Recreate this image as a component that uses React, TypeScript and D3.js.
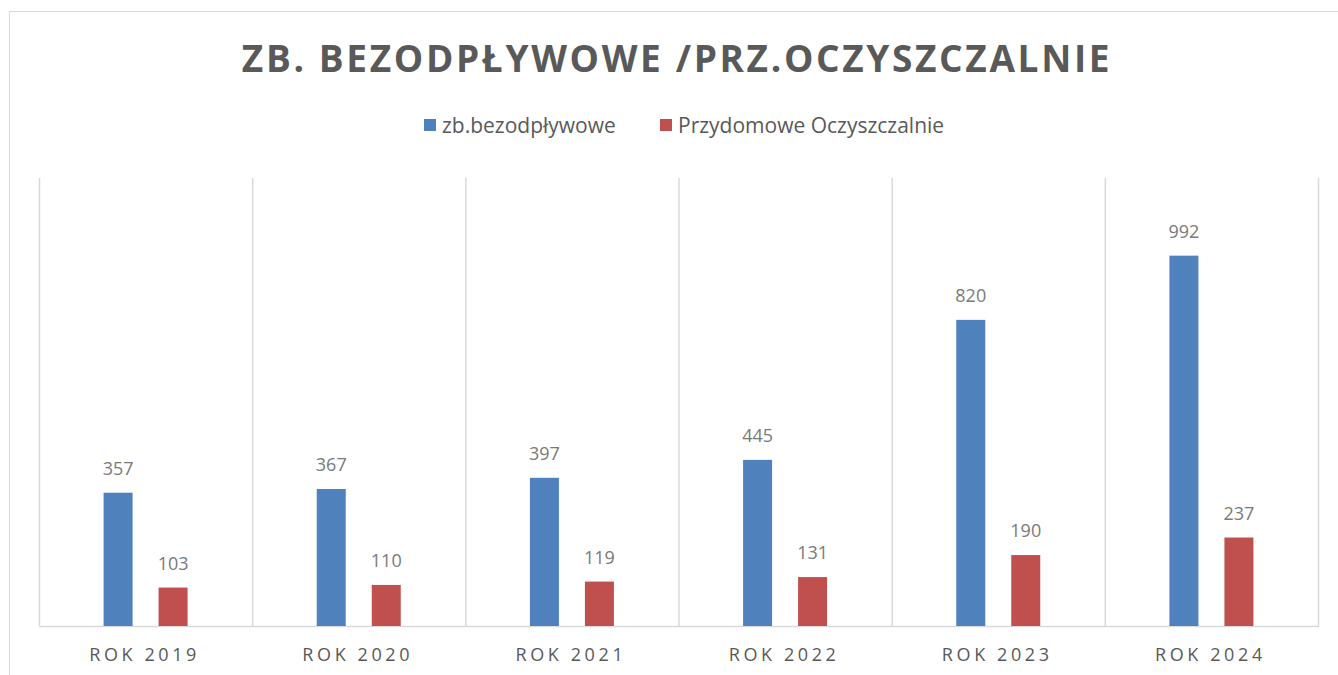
import React from "react";
import * as d3 from "d3";

const categories = ["ROK 2019", "ROK 2020", "ROK 2021", "ROK 2022", "ROK 2023", "ROK 2024"];
const seriesNames = ["zb.bezodpływowe", "Przydomowe Oczyszczalnie"];
const bezodplywowe = [357, 367, 397, 445, 820, 992];
const oczyszczalnie = [103, 110, 119, 131, 190, 237];
const colors = ["#4F81BD", "#C0504D"];
const title = "ZB. BEZODPŁYWOWE /PRZ.OCZYSZCZALNIE";
const yMax = 1200;

const W = 1338;
const H = 675;
const FONT = "'Open Sans', 'Noto Sans', sans-serif";

export default function App() {
  const plotLeft = 39;
  const plotRight = 1318;
  const plotTop = 178;
  const plotBottom = 626;

  const x = d3.scaleBand<string>().domain(categories).range([plotLeft, plotRight]).paddingInner(0).paddingOuter(0);
  const y = d3.scaleLinear().domain([0, yMax]).range([plotBottom, plotTop]);
  const barW = 29;
  const gap = 26;
  const series = [bezodplywowe, oczyszczalnie];

  return (
    <svg width={W} height={H} style={{ position: "absolute", left: 0, top: 0 }} fontFamily={FONT}>
      <rect x={0} y={0} width={W} height={H} fill="#fff" />
      <line x1={9.5} y1={11.5} x2={W} y2={11.5} stroke="#d9d9d9" strokeWidth={1} />
      <line x1={9.5} y1={11.5} x2={9.5} y2={H} stroke="#d9d9d9" strokeWidth={1} />
      <text x={677} y={72} textAnchor="middle" fontSize={37} fontWeight={700} fill="#595959" letterSpacing={2.65}>
        {title}
      </text>
      {/* legend */}
      <g>
        <rect x={424} y={119} width={12} height={12} fill={colors[0]} />
        <text x={442} y={133} fontSize={21} fill="#595959">{seriesNames[0]}</text>
        <rect x={660} y={119} width={12} height={12} fill={colors[1]} />
        <text x={678} y={133} fontSize={21} fill="#595959">{seriesNames[1]}</text>
      </g>
      {/* vertical gridlines */}
      {[...categories.map((c) => x(c) as number), plotRight].map((gx, i) => (
        <line key={i} x1={gx + 0.5} x2={gx + 0.5} y1={plotTop} y2={plotBottom} stroke="#d9d9d9" strokeWidth={1.5} />
      ))}
      <line x1={plotLeft} x2={plotRight + 1} y1={plotBottom + 0.5} y2={plotBottom + 0.5} stroke="#d9d9d9" strokeWidth={1.5} />
      {categories.map((c, i) => {
        const cx = (x(c) as number) + x.bandwidth() / 2;
        return (
          <g key={c}>
            {series.map((s, si) => {
              const bx = si === 0 ? cx - gap / 2 - barW : cx + gap / 2;
              const top = y(s[i]);
              return (
                <g key={si}>
                  <rect x={bx} y={top} width={barW} height={plotBottom - top} fill={colors[si]} />
                  <text x={bx + barW / 2} y={top - 18} textAnchor="middle" fontSize={18} fill="#7a7a7a">
                    {s[i]}
                  </text>
                </g>
              );
            })}
            <text x={cx - 1} y={661} textAnchor="middle" fontSize={18} fill="#595959" letterSpacing={3.6}>
              {c}
            </text>
          </g>
        );
      })}
    </svg>
  );
}
